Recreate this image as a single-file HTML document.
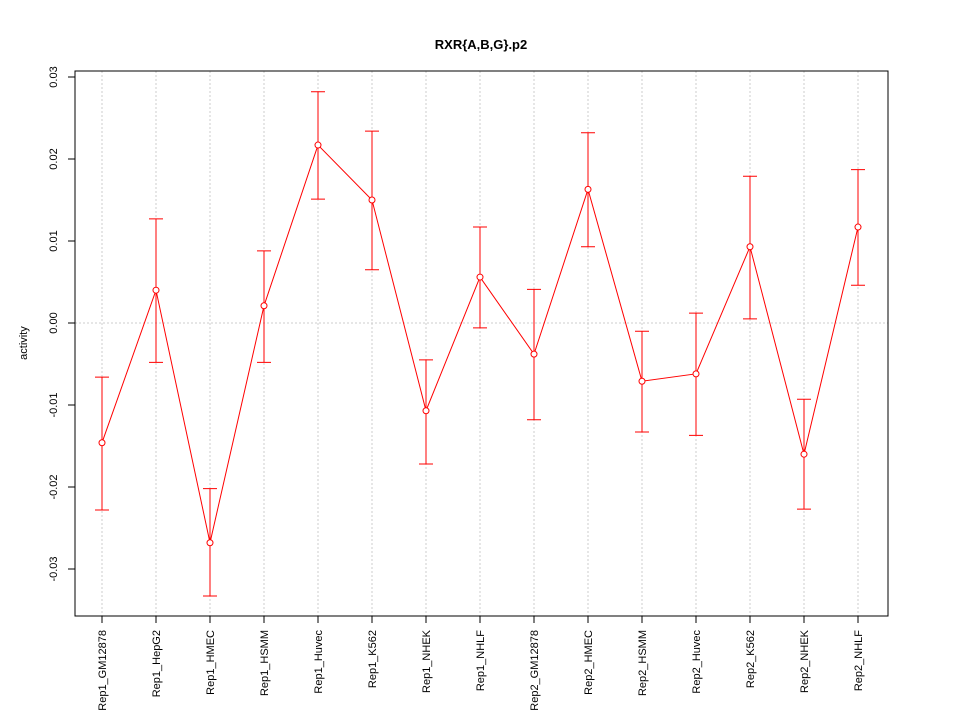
<!DOCTYPE html>
<html><head><meta charset="utf-8"><style>body{margin:0;background:#fff}svg{font-family:"Liberation Sans",sans-serif}</style></head>
<body>
<svg id="chart" width="960" height="720" xmlns="http://www.w3.org/2000/svg">
<rect width="960" height="720" fill="#fff"/>
<text x="481" y="49" text-anchor="middle" font-size="13" font-weight="bold">RXR{A,B,G}.p2</text>
<text transform="translate(27,343) rotate(-90)" text-anchor="middle" font-size="11">activity</text>
<g id="grid"></g><g id="axes"></g><g id="marks"></g>
<rect x="75" y="71" width="813" height="545" fill="none" stroke="#000"/>
</svg>
<script>
const categories=["Rep1_GM12878","Rep1_HepG2","Rep1_HMEC","Rep1_HSMM","Rep1_Huvec","Rep1_K562","Rep1_NHEK","Rep1_NHLF","Rep2_GM12878","Rep2_HMEC","Rep2_HSMM","Rep2_Huvec","Rep2_K562","Rep2_NHEK","Rep2_NHLF"];
const values=[-0.0146,0.0040,-0.0268,0.0021,0.0217,0.0150,-0.0107,0.0056,-0.0038,0.0163,-0.0071,-0.0062,0.0093,-0.0160,0.0117];
const upper=[-0.0066,0.0127,-0.0202,0.0088,0.0282,0.0234,-0.0045,0.0117,0.0041,0.0232,-0.0010,0.0012,0.0179,-0.0093,0.0187];
const lower=[-0.0228,-0.0048,-0.0333,-0.0048,0.0151,0.0065,-0.0172,-0.0006,-0.0118,0.0093,-0.0133,-0.0137,0.0005,-0.0227,0.0046];
const yTicks=[-0.03,-0.02,-0.01,0,0.01,0.02,0.03];
const yTickLabels=["-0.03","-0.02","-0.01","0.00","0.01","0.02","0.03"];
const NS="http://www.w3.org/2000/svg";
const xs=i=>102+i*54;
const ys=v=>323-v*8200;
function mk(p,t,a){const e=document.createElementNS(NS,t);for(const k in a)e.setAttribute(k,a[k]);document.getElementById(p).appendChild(e);return e;}
categories.forEach((c,i)=>{
 const g=mk("grid","line",{x1:xs(i),x2:xs(i),y1:71,y2:616,stroke:"#ccc","stroke-dasharray":"2,2"});
 
 
 const t=mk("axes","line",{x1:xs(i),x2:xs(i),y1:616,y2:623,stroke:"#000"});
 
 
 const l=mk("axes","text",{transform:`translate(${xs(i)+4},630) rotate(-90)`,"text-anchor":"end","font-size":"11"});
 l.textContent=c;
 
 
});
const z=mk("grid","line",{x1:75,x2:888,y1:ys(0),y2:ys(0),stroke:"#ccc","stroke-dasharray":"2,2"});


yTicks.forEach((v,i)=>{
 const t=mk("axes","line",{x1:68,x2:75,y1:ys(v),y2:ys(v),stroke:"#000"});
 
 
 const l=mk("axes","text",{transform:`translate(57,${ys(v)}) rotate(-90)`,"text-anchor":"middle","font-size":"11"});
 l.textContent=yTickLabels[i];
 
 
});
const pl=mk("marks","polyline",{points:values.map((v,i)=>xs(i)+","+ys(v)).join(" "),fill:"none",stroke:"#f00"});


values.forEach((v,i)=>{
 const x=xs(i);
 const e=mk("marks","path",{d:`M${x},${ys(upper[i])}V${ys(lower[i])}M${x-7},${ys(upper[i])}H${x+7}M${x-7},${ys(lower[i])}H${x+7}`,stroke:"#f00",fill:"none"});
 
 
 const p=mk("marks","circle",{cx:x,cy:ys(v),r:3,fill:"#fff",stroke:"#f00"});
 
 
});
</script>
</body></html>
